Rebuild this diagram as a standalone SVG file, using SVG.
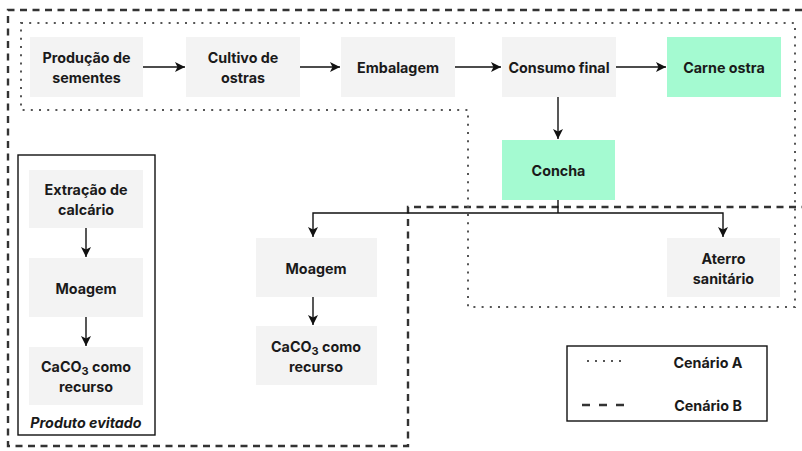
<svg xmlns="http://www.w3.org/2000/svg" width="802" height="451" viewBox="0 0 802 451">
<defs>
<marker id="ah" viewBox="0 0 10 10" refX="10" refY="5" markerWidth="10" markerHeight="10" markerUnits="userSpaceOnUse" orient="auto">
<path d="M0,0 L10,5 L0,10 L2.5,5 Z" fill="#111"/>
</marker>
<style>
.box{fill:#F3F3F3;}
.green{fill:#A4FAD1;}
.t{font-family:Inter,"Liberation Sans",sans-serif;font-weight:700;font-size:14.3px;fill:#1a1a1a;text-anchor:middle;}
.edge{stroke:#111;stroke-width:1.4;fill:none;}
.arr{marker-end:url(#ah);}
.dash{stroke:#333;stroke-width:2.4;fill:none;stroke-dasharray:7 5.5;}
.dot{stroke:#555;stroke-width:2;fill:none;stroke-dasharray:2 6.2;}
</style>
</defs>
<rect width="802" height="451" fill="#fff"/>

<g id="scenarios">
<path class="dash" d="M802,10 H8 V446 H408 V207 H802"/>
<path class="dot" d="M21,23 H795 V307 H468 V110 H21 Z"/>
</g>

<g id="n-producao"><rect class="box" x="30" y="37" width="113" height="60"/><text class="t" x="86.5" y="63">Produção de</text><text class="t" x="86.5" y="83">sementes</text></g>
<g id="n-cultivo"><rect class="box" x="186" y="37" width="114" height="60"/><text class="t" x="243" y="63">Cultivo de</text><text class="t" x="243" y="83">ostras</text></g>
<g id="n-embalagem"><rect class="box" x="341" y="37" width="114" height="60"/><text class="t" x="398" y="73">Embalagem</text></g>
<g id="n-consumo"><rect class="box" x="502" y="37" width="114" height="60"/><text class="t" x="559" y="73">Consumo final</text></g>
<g id="n-carne"><rect class="green" x="667" y="37" width="114" height="60"/><text class="t" x="724" y="73">Carne ostra</text></g>
<g id="n-concha"><rect class="green" x="502" y="140" width="113" height="60"/><text class="t" x="558.5" y="176">Concha</text></g>
<g id="n-aterro"><rect class="box" x="667" y="238" width="113" height="59"/><text class="t" x="723.5" y="264">Aterro</text><text class="t" x="723.5" y="284">sanitário</text></g>
<g id="n-moagem-b"><rect class="box" x="256" y="238" width="121" height="59"/><text class="t" x="316" y="274">Moagem</text></g>
<g id="n-caco3-b"><rect class="box" x="256" y="326" width="121" height="59"/><text class="t" x="316" y="352">CaCO<tspan font-size="11" dy="3">3</tspan><tspan dy="-3"> como</tspan></text><text class="t" x="316" y="372">recurso</text></g>

<g id="n-evitado">
<rect x="18" y="155" width="137" height="280" fill="none" stroke="#111" stroke-width="1.4"/>
<text class="t" x="86" y="428" font-style="italic" font-size="13.5">Produto evitado</text>
</g>
<g id="n-extracao"><rect class="box" x="29" y="170" width="114" height="58"/><text class="t" x="86" y="195">Extração de</text><text class="t" x="86" y="215">calcário</text></g>
<g id="n-moagem-a"><rect class="box" x="29" y="258" width="114" height="59"/><text class="t" x="86" y="294">Moagem</text></g>
<g id="n-caco3-a"><rect class="box" x="29" y="347" width="114" height="58"/><text class="t" x="86" y="372">CaCO<tspan font-size="11" dy="3">3</tspan><tspan dy="-3"> como</tspan></text><text class="t" x="86" y="392">recurso</text></g>

<g id="connectors">
<line class="edge arr" x1="143" y1="67" x2="185" y2="67"/>
<line class="edge arr" x1="300" y1="67" x2="340" y2="67"/>
<line class="edge arr" x1="455" y1="67" x2="501" y2="67"/>
<line class="edge arr" x1="616" y1="67" x2="666" y2="67"/>
<line class="edge arr" x1="558" y1="97" x2="558" y2="139"/>
<path class="edge" d="M558,200 V213"/>
<path class="edge arr" d="M558,213 H313 V237"/>
<path class="edge arr" d="M558,213 H723 V237"/>
<line class="edge arr" x1="313" y1="297" x2="313" y2="325"/>
<line class="edge arr" x1="86" y1="228" x2="86" y2="257"/>
<line class="edge arr" x1="86" y1="317" x2="86" y2="346"/>
</g>

<g id="legend">
<rect x="567" y="346" width="200" height="75" fill="#fff" stroke="#111" stroke-width="1.4"/>
<line x1="587" y1="361" x2="626" y2="361" stroke="#555" stroke-width="2" stroke-dasharray="2 6"/>
<line x1="582" y1="405" x2="625" y2="405" stroke="#333" stroke-width="2.4" stroke-dasharray="8 9"/>
<text class="t" x="708" y="368">Cenário A</text>
<text class="t" x="708" y="411">Cenário B</text>
</g>
</svg>
